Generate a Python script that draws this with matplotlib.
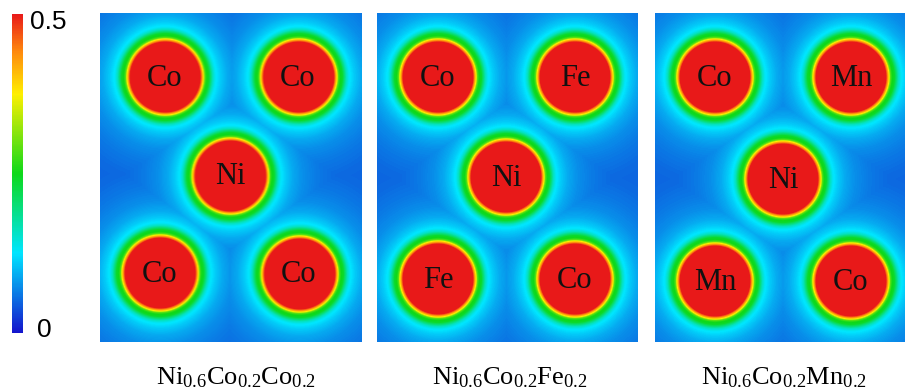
import numpy as np
import matplotlib.pyplot as plt
from matplotlib.colors import LinearSegmentedColormap

plt.rcParams['mathtext.fontset'] = 'custom'
plt.rcParams['mathtext.rm'] = 'Liberation Serif'
plt.rcParams['mathtext.it'] = 'Liberation Serif:italic'

# composition labels under each slice
compositions = [r'$\mathrm{Ni}_{0.6}\mathrm{Co}_{0.2}\mathrm{Co}_{0.2}$',
                r'$\mathrm{Ni}_{0.6}\mathrm{Co}_{0.2}\mathrm{Fe}_{0.2}$',
                r'$\mathrm{Ni}_{0.6}\mathrm{Co}_{0.2}\mathrm{Mn}_{0.2}$']

# atoms in each slice (x, y in cell pixels, y from top)
species = [['Co', 'Co', 'Ni', 'Co', 'Co'],
           ['Co', 'Fe', 'Ni', 'Fe', 'Co'],
           ['Co', 'Mn', 'Ni', 'Mn', 'Co']]
atom_x = [[65, 198, 130, 60, 199],
          [61, 198, 129, 61, 198],
          [60, 196, 128, 60, 196]]
atom_y = [[64, 64, 163, 260, 261],
          [64, 64, 164, 266, 266],
          [64, 64, 166, 268, 268]]

# radial ELF profile around an atom (distance in px -> ELF)
elf_r = [0, 35, 36.5, 38, 39.5, 41, 43.5, 45.5, 47.5, 50, 55, 62, 72, 86, 105, 140]
elf_v = [0.5, 0.5, 0.44, 0.38, 0.29, 0.255, 0.24, 0.2, 0.16, 0.13, 0.11, 0.09, 0.074, 0.062, 0.052, 0.045]

elf_min, elf_max = 0.0, 0.5
cell_w, cell_h = 261, 329

cmap = LinearSegmentedColormap.from_list('elf', [
    (0.00, (0.08, 0.08, 0.80)),
    (0.25, (0.00, 0.90, 1.00)),
    (0.50, (0.05, 0.85, 0.10)),
    (0.75, (1.00, 0.94, 0.00)),
    (0.88, (1.00, 0.55, 0.05)),
    (1.00, (0.91, 0.10, 0.10)),
])

fig = plt.figure(figsize=(9.05, 3.92), dpi=100)
W, H = 905, 392

lefts = [100, 377, 655]
widths = [261, 261, 250]
top, bottom = 13, 342
label_cx = [236, 510, 784]

yy, xx = np.mgrid[0:cell_h, 0:cell_w] + 0.5

for k in range(3):
    ax = fig.add_axes([lefts[k] / W, 1 - bottom / H, widths[k] / W, (bottom - top) / H])
    field = np.zeros((cell_h, cell_w))
    for x0, y0 in zip(atom_x[k], atom_y[k]):
        d = np.hypot(xx - x0, yy - y0)
        field = np.maximum(field, np.interp(d, elf_r, elf_v))
    im = ax.imshow(field, cmap=cmap, vmin=elf_min, vmax=elf_max,
                   extent=(0, cell_w, cell_h, 0), interpolation='bilinear', aspect='auto')
    ax.set_xlim(0, widths[k])
    ax.set_ylim(cell_h, 0)
    ax.set_axis_off()
    for name, x0, y0 in zip(species[k], atom_x[k], atom_y[k]):
        ax.text(x0, y0 + 1, name, ha='center', va='center', fontsize=22,
                family='Liberation Serif', color='#111111')
    fig.text(label_cx[k] / W, 1 - 384 / H, compositions[k], ha='center', va='baseline',
             fontsize=19)

cax = fig.add_axes([12 / W, 1 - 333 / H, 11 / W, 319 / H])
cb = fig.colorbar(im, cax=cax)
cb.outline.set_visible(False)
cax.set_yticks([])
fig.text(30 / W, 1 - 22 / H, '0.5', ha='left', va='center', fontsize=19,
         family='Liberation Sans')
fig.text(37 / W, 1 - 330 / H, '0', ha='left', va='center', fontsize=19,
         family='Liberation Sans')

fig.savefig('out.png', dpi=100)
